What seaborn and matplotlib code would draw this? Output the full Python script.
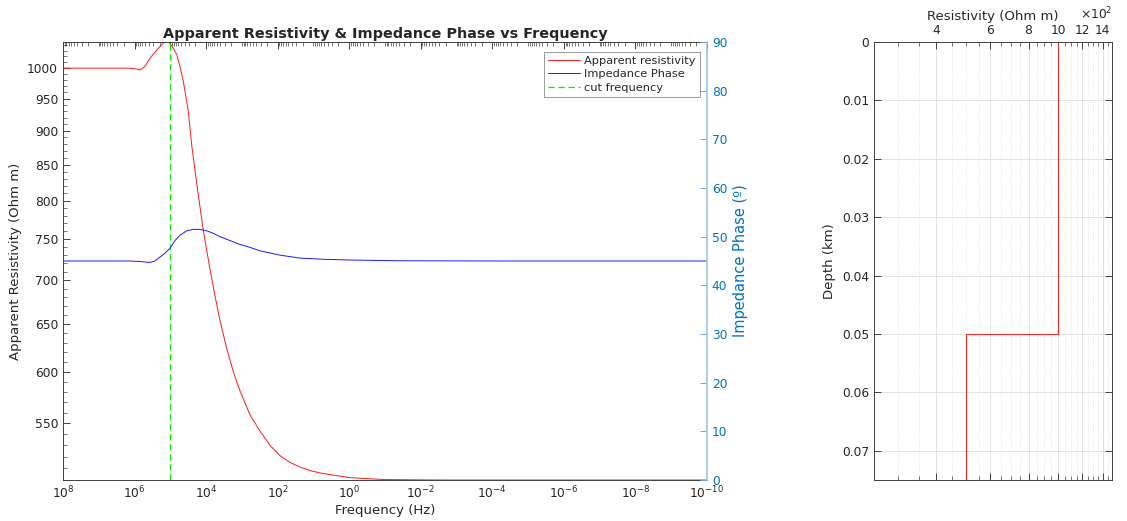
import numpy as np
import pandas as pd
import matplotlib
matplotlib.use("Agg")
import matplotlib.pyplot as plt
import matplotlib.ticker as mticker
from matplotlib.lines import Line2D
import seaborn as sns

# ---------------- data ----------------
# apparent resistivity curve: log10(frequency) and value (Ohm m)
rho_logf = [8.0, 7.0, 6.5, 6.127, 5.988, 5.848, 5.708, 5.568, 5.381, 5.197,
            5.10, 5.01, 4.917, 4.82, 4.73, 4.637, 4.498, 4.403, 4.255, 4.079,
            3.891, 3.724, 3.612, 3.425, 3.24, 3.053, 2.774, 2.494, 2.215,
            1.935, 1.656, 1.376, 1.097, 0.82, 0.0, -0.96, -2.0, -2.8, -10.0]
app_res = [1000, 1000, 1000, 1000, 999, 997, 1003, 1017, 1031, 1043,
           1045, 1043, 1034, 1023, 1003, 978, 930, 879, 821, 761,
           713, 676, 654, 624, 600, 581, 558, 543, 530,
           521, 515, 511, 508, 506, 502, 500.4, 500.1, 500, 500]

# impedance phase curve: log10(frequency) and value (degrees)
phase_logf = [8.0, 6.4, 6.127, 5.848, 5.708, 5.568, 5.43, 5.289, 5.15, 5.01,
              4.87, 4.73, 4.543, 4.358, 4.171, 3.984, 3.80, 3.612, 3.333,
              3.053, 2.774, 2.494, 1.935, 1.376, 0.7, -0.02, -1.42, -4.2, -10.0]
phase = [45, 45, 45, 44.9, 44.8, 44.7, 45.0, 45.8, 46.6, 47.6,
         49.2, 50.3, 51.2, 51.5, 51.5, 51.2, 50.7, 50.0, 49.2,
         48.4, 47.8, 47.1, 46.2, 45.6, 45.35, 45.2, 45.05, 45.0, 45.0]

cut_freq = 1e5  # Hz

layer_res = [1000, 500]        # Ohm m
layer_top = [0.0, 0.05]        # km
max_depth = 0.075              # km

rho_ticks = [550, 600, 650, 700, 750, 800, 850, 900, 950, 1000]
phase_ticks = [0, 10, 20, 30, 40, 50, 60, 70, 80, 90]
freq_exps = [8, 6, 4, 2, 0, -2, -4, -6, -8, -10]
res_ticks = [400, 600, 800, 1000, 1200, 1400]
res_tick_labels = ["4", "6", "8", "10", "12", "14"]
depth_ticks = [0, 0.01, 0.02, 0.03, 0.04, 0.05, 0.06, 0.07]
depth_tick_labels = ["0", "0.01", "0.02", "0.03", "0.04", "0.05", "0.06", "0.07"]

# ---------------- style ----------------
sns.set_style("white")
plt.rcParams['font.family'] = ['DejaVu Sans']
AX = "#404040"
BLUE = "#0072BD"
RED = "#ff1a1a"
TICK_FS = 8.8
LAB_FS = 9.5

fig = plt.figure(figsize=(11.27, 5.21), dpi=100)
ax = fig.add_axes([0.0559, 0.0787, 0.5714, 0.8407])
ax2 = ax.twinx()
axr = fig.add_axes([0.7755, 0.0787, 0.2112, 0.8407])

df_rho = pd.DataFrame({"f": 10.0 ** np.array(rho_logf), "rho": app_res})
df_ph = pd.DataFrame({"f": 10.0 ** np.array(phase_logf), "phase": phase})

sns.lineplot(data=df_rho, x="f", y="rho", ax=ax, color=RED, lw=0.7,
             estimator=None, sort=False, legend=False)
ax.axvline(cut_freq, color="#00ee00", lw=0.9, ls=(0, (5, 3)))
sns.lineplot(data=df_ph, x="f", y="phase", ax=ax2, color="#1a1aff", lw=0.7,
             estimator=None, sort=False, legend=False)

ax.set_xscale("log")
ax.set_yscale("log")
ax.set_xlim(1e8, 1e-10)
ax.set_ylim(500, max(app_res))
ax2.set_ylim(0, 90)

# x ticks
ax.xaxis.set_major_locator(mticker.FixedLocator([10.0 ** e for e in freq_exps]))
ax.xaxis.set_major_formatter(mticker.FixedFormatter([f"$10^{{{e}}}$" for e in freq_exps]))
ax.xaxis.set_minor_locator(mticker.LogLocator(base=10, subs=np.arange(1, 10), numticks=200))
ax.xaxis.set_minor_formatter(mticker.NullFormatter())
# left y ticks
ax.yaxis.set_major_locator(mticker.FixedLocator(rho_ticks))
ax.yaxis.set_major_formatter(mticker.FixedFormatter([str(v) for v in rho_ticks]))
ax.yaxis.set_minor_locator(mticker.FixedLocator(np.arange(500, 1050, 10)))
ax.yaxis.set_minor_formatter(mticker.NullFormatter())
ax2.yaxis.set_major_locator(mticker.FixedLocator(phase_ticks))

ax.tick_params(which="both", direction="in", top=True, right=False, colors=AX,
               labelsize=TICK_FS, labelcolor="#262626")
ax.tick_params(which="major", length=5, width=0.7)
ax.tick_params(which="minor", length=3, width=0.5)
ax2.tick_params(axis="y", which="both", direction="in", length=5, width=0.7,
                colors="#6fa8dc", labelcolor=BLUE, labelsize=TICK_FS)

for s in ["left", "bottom", "top"]:
    ax.spines[s].set_color(AX)
    ax.spines[s].set_linewidth(0.7)
ax.spines["right"].set_visible(False)
for s in ["left", "bottom", "top"]:
    ax2.spines[s].set_visible(False)
ax2.spines["right"].set_color("#9fc5e8")
ax2.spines["right"].set_linewidth(1.2)

ax.set_xlabel("Frequency (Hz)", fontsize=LAB_FS, color="#262626", labelpad=2)
ax.set_ylabel("Apparent Resistivity (Ohm m)", fontsize=LAB_FS, color="#262626")
ax2.set_ylabel("Impedance Phase (º)", fontsize=LAB_FS + 1, color=BLUE)
ax.set_title("Apparent Resistivity & Impedance Phase vs Frequency",
             fontsize=10.4, fontweight="bold", pad=3)

handles = [Line2D([], [], color=RED, lw=0.7),
           Line2D([], [], color="#1a1aff", lw=0.7),
           Line2D([], [], color="#00ee00", lw=0.9, ls=(0, (5, 3)))]
leg = ax2.legend(handles, ["Apparent resistivity", "Impedance Phase", "cut frequency"],
                 loc="upper right", bbox_to_anchor=(0.994, 0.985), fontsize=8.2,
                 frameon=True, fancybox=False, borderpad=0.35, labelspacing=0.3,
                 handlelength=2.8, handletextpad=0.4, borderaxespad=0.3)
leg.get_frame().set_edgecolor("#808080")
leg.get_frame().set_linewidth(0.7)

# ---------------- right panel: layered model ----------------
step_x = [layer_res[0], layer_res[0], layer_res[1], layer_res[1]]
step_y = [layer_top[0], layer_top[1], layer_top[1], max_depth]
df_layer = pd.DataFrame({"res": step_x, "depth": step_y})
sns.lineplot(data=df_layer, x="res", y="depth", ax=axr, color=RED, lw=0.7,
             estimator=None, sort=False, legend=False)
axr.set_xscale("log")
axr.set_xlim(250, 1500)
axr.set_ylim(max_depth, 0)
axr.xaxis.set_major_locator(mticker.FixedLocator(res_ticks))
axr.xaxis.set_major_formatter(mticker.FixedFormatter(res_tick_labels))
axr.xaxis.set_minor_locator(mticker.FixedLocator(np.arange(300, 1500, 50)))
axr.xaxis.set_minor_formatter(mticker.NullFormatter())
axr.yaxis.set_major_locator(mticker.FixedLocator(depth_ticks))
axr.yaxis.set_major_formatter(mticker.FixedFormatter(depth_tick_labels))
axr.xaxis.set_ticks_position("both")
axr.xaxis.set_label_position("top")
axr.tick_params(axis="x", which="both", labeltop=True, labelbottom=False)
axr.tick_params(which="both", direction="in", top=True, bottom=True, left=True,
                right=True, colors=AX, labelsize=TICK_FS, labelcolor="#262626")
axr.tick_params(which="major", length=5, width=0.7)
axr.tick_params(which="minor", length=3, width=0.5)
axr.grid(which="major", color="#e3e3e3", lw=0.7)
axr.grid(which="minor", axis="x", color="#e0e0e0", lw=0.6, ls=":")
axr.set_axisbelow(True)
for s in axr.spines.values():
    s.set_color(AX)
    s.set_linewidth(0.7)
axr.set_xlabel("Resistivity (Ohm m)", fontsize=LAB_FS, color="#262626", labelpad=3)
axr.set_ylabel("Depth (km)", fontsize=LAB_FS, color="#262626")
axr.text(1.0, 1.045, r"$\times10^{2}$", transform=axr.transAxes, ha="right",
         va="bottom", fontsize=TICK_FS, color="#262626")

fig.savefig("out.png", dpi=100)
